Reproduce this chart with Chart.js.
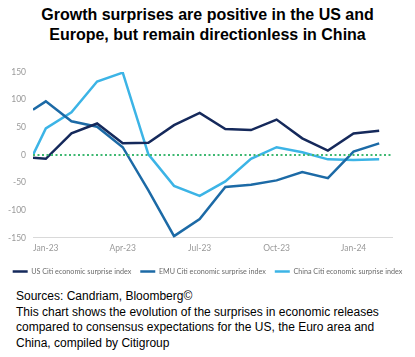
<!DOCTYPE html>
<html>
<head>
<meta charset="utf-8">
<script src="https://cdn.jsdelivr.net/npm/chart.js@4"></script>
<style>
  html,body{margin:0;padding:0;background:#fff;}
  body{width:415px;height:357px;position:relative;overflow:hidden;font-family:"Liberation Sans",Arial,sans-serif;}
  #title{position:absolute;left:0;top:5px;width:415px;text-align:center;font-weight:bold;font-size:16px;line-height:20px;color:#000;}
  #wrap{position:absolute;left:0;top:60px;width:415px;height:225px;}
  #note{position:absolute;left:16px;top:289px;font-size:12px;line-height:15.7px;color:#000;white-space:nowrap;}
</style>
</head>
<body>
<div id="title">Growth surprises are positive in the US and<br>Europe, but remain directionless in China</div>
<div id="wrap"><canvas id="c"></canvas></div>
<div id="note">Sources: Candriam, Bloomberg©<br>This chart shows the evolution of the surprises in economic releases<br>compared to consensus expectations for the US, the Euro area and<br>China, compiled by Citigroup</div>
<script>
// Month index (0 = Jan-23); first observation sits half a month before Jan-23
const monthIndex = [-0.5, 0, 1, 2, 3, 4, 5, 6, 7, 8, 9, 10, 11, 12, 13];
const usValues    = [-5, -7, 39, 57, 21, 22, 54, 76, 47, 45, 64, 30, 8, 39, 44];
const emuValues   = [82, 97, 61, 51, 14, -64, -147, -116, -58, -54, -46, -31, -42, 6, 21];
const chinaValues = [0, 48, 77, 133, 149, 1, -56, -74, -48, -7, 14, 5, -8, -9, -8];
const seriesNames = ['US Citi economic surprise index', 'EMU Citi economic surprise index', 'China Citi economic surprise index'];
const tickMonths = [0, 3, 6, 9, 12];
const tickLabels = ['Jan-23', 'Apr-23', 'Jul-23', 'Oct-23', 'Jan-24'];
const xRange = [-0.5, 13.5];
const yTicks = [-150, -100, -50, 0, 50, 100, 150];
const zeroLine = [0, 0];

const toPts = vals => vals.map((v, i) => ({x: monthIndex[i], y: v}));

new Chart(document.getElementById('c'), {
  type: 'line',
  data: {
    datasets: [
      {label: seriesNames[0], data: toPts(usValues), borderColor: '#15295b', backgroundColor: '#15295b', borderWidth: 2.5, pointRadius: 0, tension: 0, order: 1},
      {label: seriesNames[1], data: toPts(emuValues), borderColor: '#1c6aa6', backgroundColor: '#1c6aa6', borderWidth: 2.5, pointRadius: 0, tension: 0, order: 2},
      {label: seriesNames[2], data: toPts(chinaValues), borderColor: '#3cb4e6', backgroundColor: '#3cb4e6', borderWidth: 2.5, pointRadius: 0, tension: 0, order: 3},
      {label: 'zero', data: [{x: xRange[0], y: zeroLine[0]}, {x: xRange[1], y: zeroLine[1]}], borderColor: '#3fb872', borderWidth: 2, borderDash: [2, 2.5], pointRadius: 0, order: 0}
    ]
  },
  options: {
    responsive: true,
    maintainAspectRatio: false,
    animation: false,
    layout: {padding: {top: 9, right: 0, left: 0, bottom: 0}},
    plugins: {
      tooltip: {enabled: false},
      legend: {
        position: 'bottom',
        labels: {
          filter: item => item.text !== 'zero',
          usePointStyle: true,
          pointStyle: 'line',
          pointStyleWidth: 15,
          boxHeight: 8,
          padding: 9,
          color: '#6b6b6b',
          font: {family: 'Lato', size: 7.2}
        }
      }
    },
    scales: {
      x: {
        type: 'linear',
        min: xRange[0],
        max: xRange[1],
        afterBuildTicks: s => { s.ticks = tickMonths.map(v => ({value: v})); },
        afterFit: s => { s.height = 21; },
        ticks: {
          autoSkip: false,
          maxRotation: 0,
          padding: 5,
          color: '#999999',
          font: {family: 'Lato', size: 8.5},
          callback: v => tickLabels[tickMonths.indexOf(v)]
        },
        grid: {display: false, drawTicks: false},
        border: {display: true, color: '#d9d9d9', width: 1}
      },
      y: {
        min: yTicks[0],
        max: yTicks[yTicks.length - 1],
        afterBuildTicks: s => { s.ticks = yTicks.map(v => ({value: v})); },
        afterFit: s => { s.width = 33; },
        ticks: {
          padding: 7,
          color: '#999999',
          font: {family: 'Lato', size: 8.5}
        },
        grid: {display: false, drawTicks: false},
        border: {display: false}
      },
      yRight: {
        position: 'right',
        min: yTicks[0],
        max: yTicks[yTicks.length - 1],
        afterFit: s => { s.width = 23; },
        ticks: {display: false},
        grid: {display: false, drawTicks: false},
        border: {display: false}
      }
    }
  }
});
</script>
</body>
</html>
